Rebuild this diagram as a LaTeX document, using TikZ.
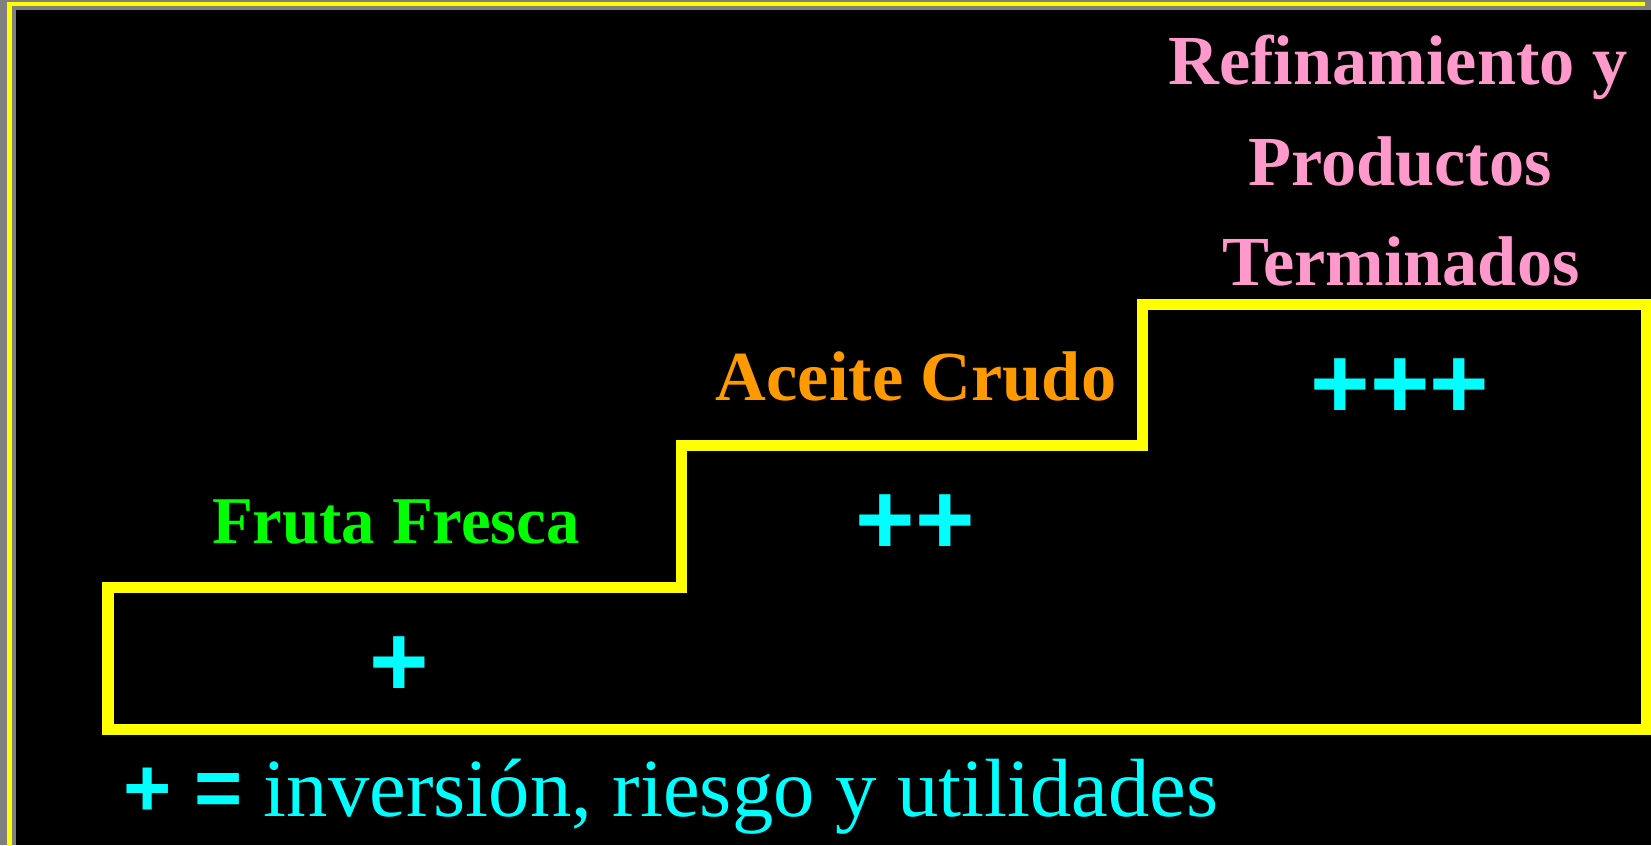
\documentclass[tikz,border=0pt]{standalone}
\usepackage{fontspec}
\setmainfont{Liberation Serif}
\newfontfamily\plusfont{Liberation Sans}
\definecolor{stepyellow}{RGB}{255,255,0}
\definecolor{pluscyan}{RGB}{0,255,255}
\definecolor{frutagreen}{RGB}{0,255,0}
\definecolor{aceiteorange}{RGB}{255,153,0}
\definecolor{refpink}{RGB}{255,153,204}
\definecolor{framegray}{RGB}{128,128,128}
\tikzset{
  steplabel/.style={anchor=base, inner sep=0pt, font=\bfseries\fontsize{20}{24}\selectfont},
  plusmark/.style={inner sep=0pt, text=pluscyan, font=\plusfont\bfseries\fontsize{29}{34}\selectfont},
}

\begin{document}
\begin{tikzpicture}[x=0.01cm, y=-0.01cm]
		%%%%% START %%%%%
		\useasboundingbox (0, 0) rectangle (1651, 845);
		\fill[framegray] (0, 0) rectangle (1651, 845);
		\fill[black] (16, 10) rectangle (1651, 845);
		\draw[stepyellow, line width=0.045cm] (9.5, 845) -- (9.5, 4) -- (1645, 4);
		
		% staircase
		\draw[stepyellow, line width=0.11cm, line join=miter]
			(108, 729) -- (108, 587) -- (681.5, 587) -- (681.5, 445.5)
			-- (1142.5, 445.5) -- (1142.5, 304.5) -- (1646.5, 304.5)
			-- (1646.5, 729) -- cycle;
		
		\node[steplabel, text=frutagreen, font=\bfseries\fontsize{19}{24}\selectfont] (fruta) at (396, 543) {Fruta Fresca};
		\node[steplabel, text=aceiteorange] (aceite) at (916, 400) {Aceite Crudo};
		\node[steplabel, text=refpink] (refin) at (1398, 84) {Refinamiento y};
		\node[steplabel, text=refpink] (productos) at (1400, 185) {Productos};
		\node[steplabel, text=refpink] (terminados) at (1401, 285) {Terminados};
		
		\node[plusmark] (plusone) at (399, 667) {+};
		\node[plusmark] (plustwo) at (915, 525) {++};
		\node[plusmark] (plusthree) at (1400, 389) {+++};
		
		\node[anchor=base west, inner sep=0pt, text=pluscyan, font=\fontsize{23.5}{28}\selectfont] (legend) at (123, 816)
			{{\plusfont\bfseries + =} inversión, riesgo y utilidades};
		%%%%% END %%%%%
\end{tikzpicture}
\end{document}
